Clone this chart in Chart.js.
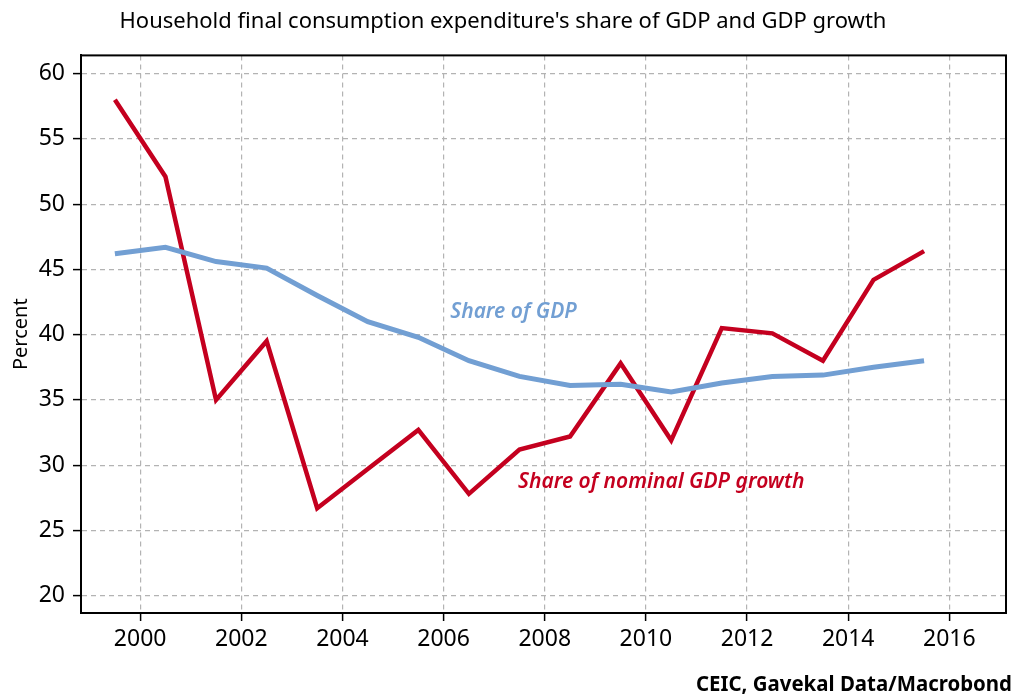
<!DOCTYPE html>
<html>
<head>
<meta charset="utf-8">
<script src="https://cdn.jsdelivr.net/npm/chart.js@4"></script>
<style>
  html, body { margin: 0; padding: 0; background: #fff; }
  #wrap { width: 1020px; height: 699px; }
</style>
</head>
<body>
<div id="wrap"><canvas id="chart"></canvas></div>
<script>
'use strict';

// Years (points sit at mid-year)
const years = [1999, 2000, 2001, 2002, 2003, 2004, 2005, 2006, 2007, 2008,
               2009, 2010, 2011, 2012, 2013, 2014, 2015];

// Household consumption, share of GDP (%)
const shareOfGdp = [46.2, 46.7, 45.6, 45.1, 43.0, 41.0, 39.8, 38.0, 36.8, 36.1,
                    36.2, 35.6, 36.3, 36.8, 36.9, 37.5, 38.0];

// Household consumption, share of nominal GDP growth (%)
const shareOfGrowth = [58.0, 52.1, 35.0, 39.5, 26.7, 29.7, 32.7, 27.8, 31.2, 32.2,
                       37.8, 31.9, 40.5, 40.1, 38.0, 44.2, 46.4];

const xTicks = [2000, 2002, 2004, 2006, 2008, 2010, 2012, 2014, 2016];
const yTicks = [20, 25, 30, 35, 40, 45, 50, 55, 60];

const RED = '#c4001f';
const BLUE = '#729fd3';
const FONT = '"Noto Sans", sans-serif';

function points(values) {
    return years.map((y, i) => ({ x: y + 0.5, y: values[i] }));
}

// labels on the lines, box round the plot, source line
const extras = {
    id: 'extras',
    afterDatasetsDraw(chart) {
        const ctx = chart.ctx;
        const { left, right, top, bottom } = chart.chartArea;
        const xs = chart.scales.x, ys = chart.scales.y;
        ctx.save();
        ctx.setLineDash([]);
        ctx.strokeStyle = '#000';
        ctx.lineWidth = 2;
        ctx.strokeRect(left, top, right - left, bottom - top);

        ctx.textBaseline = 'middle';
        ctx.textAlign = 'left';
        ctx.font = 'italic 600 21px ' + FONT;
        ctx.fillStyle = BLUE;
        ctx.fillText('Share of GDP', xs.getPixelForValue(2006.13), ys.getPixelForValue(41.75), 128);
        ctx.fillStyle = RED;
        ctx.fillText('Share of nominal GDP growth', xs.getPixelForValue(2007.47), ys.getPixelForValue(28.7), 290);

        ctx.font = 'bold 20.5px ' + FONT;
        ctx.fillStyle = '#000';
        ctx.textAlign = 'right';
        ctx.fillText('CEIC, Gavekal Data/Macrobond', 1012, 685, 316);
        ctx.restore();
    }
};

const gridOpts = {
    color: '#b3b3b3',
    lineWidth: 1.2,
    drawTicks: true,
    tickLength: 8,
    tickColor: '#000',
    tickWidth: 1.5,
    tickBorderDash: []
};

new Chart(document.getElementById('chart'), {
    type: 'line',
    data: {
        datasets: [{
            label: 'Share of GDP',
            data: points(shareOfGdp),
            borderColor: BLUE,
            borderWidth: 5,
            pointRadius: 0,
            tension: 0
        }, {
            label: 'Share of nominal GDP growth',
            data: points(shareOfGrowth),
            borderColor: RED,
            borderWidth: 4.5,
            pointRadius: 0,
            tension: 0
        }]
    },
    options: {
        responsive: true,
        maintainAspectRatio: false,
        animation: false,
        layout: { padding: { left: 0, right: 14, top: 0, bottom: 0 } },
        plugins: {
            legend: { display: false },
            tooltip: { enabled: false },
            title: {
                display: true,
                text: "Household final consumption expenditure's share of GDP and GDP growth",
                color: '#000',
                font: { family: FONT, size: 22, weight: 'normal', lineHeight: 1.2 },
                padding: { top: 9, bottom: 20 }
            }
        },
        scales: {
            x: {
                type: 'linear',
                min: 1998.83,
                max: 2017.12,
                afterBuildTicks(scale) { scale.ticks = xTicks.map(v => ({ value: v })); },
                afterFit(scale) { scale.height = 86; },
                grid: gridOpts,
                border: { display: true, color: '#000', width: 2, dash: [5, 4] },
                ticks: {
                    color: '#000',
                    padding: 5,
                    maxRotation: 0,
                    font: { family: FONT, size: 23 },
                    callback: v => String(v)
                }
            },
            y: {
                min: 18.67,
                max: 61.4,
                afterBuildTicks(scale) { scale.ticks = yTicks.map(v => ({ value: v })); },
                afterFit(scale) { scale.width = 81; },
                grid: gridOpts,
                border: { display: true, color: '#000', width: 2, dash: [5, 4] },
                ticks: {
                    color: '#000',
                    padding: 8,
                    font: { family: FONT, size: 23 }
                },
                title: {
                    display: true,
                    text: 'Percent',
                    color: '#000',
                    font: { family: FONT, size: 20 },
                    padding: { top: 9, bottom: 0 }
                }
            }
        }
    },
    plugins: [extras]
});
</script>
</body>
</html>
